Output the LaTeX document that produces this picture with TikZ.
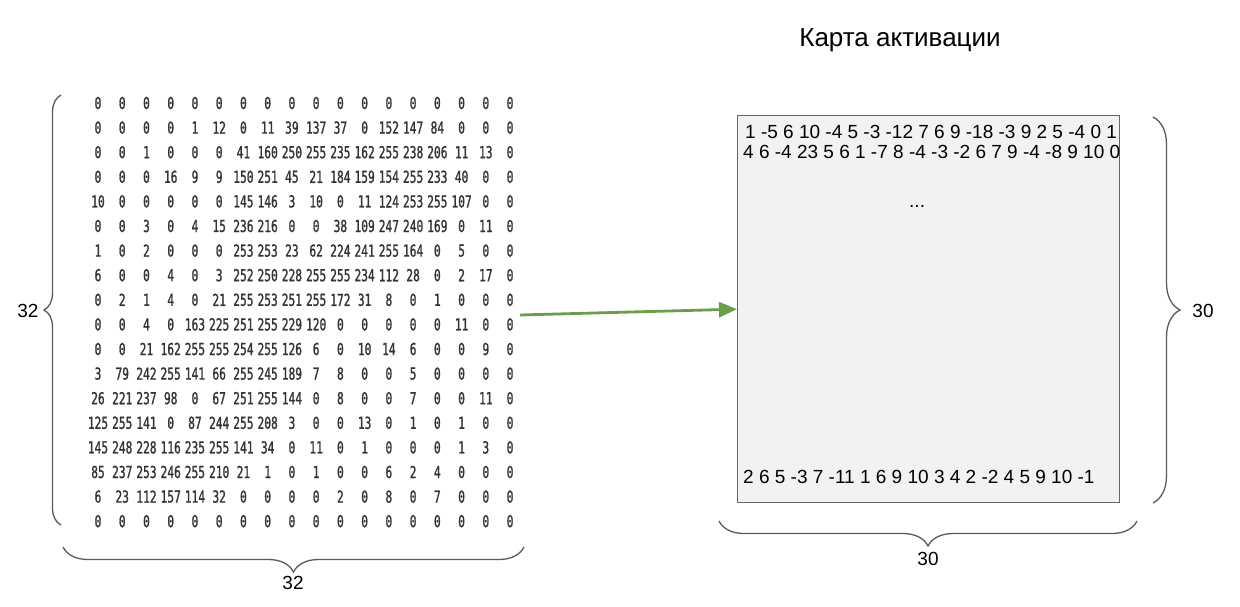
\documentclass[tikz,border=0pt]{standalone}
\usepackage{fontspec}
\setmainfont{Liberation Sans}
\newfontfamily\matfont[FakeStretch=0.68,FakeBold=1.2]{DejaVu Sans Mono}
\usetikzlibrary{decorations.pathreplacing,arrows.meta,calc}
\definecolor{bracegray}{HTML}{5A5A5A}
\definecolor{boxfill}{HTML}{F2F2F2}
\definecolor{boxline}{HTML}{666666}
\definecolor{arrowgreen}{HTML}{6A9E48}
\begin{document}
\begin{tikzpicture}[x=1pt,y=-1pt,
  cell/.style={font=\matfont\fontsize{16.5}{16.5}\selectfont, text=black!80, inner sep=0pt, anchor=center},
  lbl/.style={font=\fontsize{19}{19}\selectfont, inner sep=0pt},
  rowtxt/.style={font=\fontsize{19}{19}\selectfont, inner sep=0pt, anchor=base west},
  brc/.style={draw=bracegray, line width=1.3pt, decorate, decoration={brace, amplitude=#1}},
  fmap/.style={draw=boxline, fill=boxfill, line width=1.3pt, inner sep=0pt},
  conn/.style={draw=arrowgreen, line width=2.8pt, -{Triangle[length=18pt,width=15pt]}}]
\useasboundingbox (0,0) rectangle (1240,606);

% input matrix
\foreach \row [count=\r] in {
{0,0,0,0,0,0,0,0,0,0,0,0,0,0,0,0,0,0},
{0,0,0,0,1,12,0,11,39,137,37,0,152,147,84,0,0,0},
{0,0,1,0,0,0,41,160,250,255,235,162,255,238,206,11,13,0},
{0,0,0,16,9,9,150,251,45,21,184,159,154,255,233,40,0,0},
{10,0,0,0,0,0,145,146,3,10,0,11,124,253,255,107,0,0},
{0,0,3,0,4,15,236,216,0,0,38,109,247,240,169,0,11,0},
{1,0,2,0,0,0,253,253,23,62,224,241,255,164,0,5,0,0},
{6,0,0,4,0,3,252,250,228,255,255,234,112,28,0,2,17,0},
{0,2,1,4,0,21,255,253,251,255,172,31,8,0,1,0,0,0},
{0,0,4,0,163,225,251,255,229,120,0,0,0,0,0,11,0,0},
{0,0,21,162,255,255,254,255,126,6,0,10,14,6,0,0,9,0},
{3,79,242,255,141,66,255,245,189,7,8,0,0,5,0,0,0,0},
{26,221,237,98,0,67,251,255,144,0,8,0,0,7,0,0,11,0},
{125,255,141,0,87,244,255,208,3,0,0,13,0,1,0,1,0,0},
{145,248,228,116,235,255,141,34,0,11,0,1,0,0,0,1,3,0},
{85,237,253,246,255,210,21,1,0,1,0,0,6,2,4,0,0,0},
{6,23,112,157,114,32,0,0,0,0,2,0,8,0,7,0,0,0},
{0,0,0,0,0,0,0,0,0,0,0,0,0,0,0,0,0,0}} {
  \foreach \v [count=\c] in \row {
    \node[cell] (m-\r-\c) at ({98+(\c-1)*24.24},{103+(\r-1)*24.6}) {\v};
  }
}

% braces of the input
\coordinate (lbA) at (61,525);
\coordinate (lbB) at (61,95);
\draw[brc=17pt] (lbA) -- (lbB);
\node[lbl] (lh) at (28,311) {32};
\coordinate (bbA) at (524,547);
\coordinate (bbB) at (63,547);
\draw[brc=25pt] (bbA) -- (bbB);
\node[lbl] (lw) at (293,583) {32};

% activation map
\node[lbl, font=\fontsize{26}{26}\selectfont] (title) at (900,40) {Карта активации};
\node[fmap, minimum width=382pt, minimum height=387pt, anchor=north west] (box) at (737,115) {};
\node[rowtxt] (r1) at (745,138) {1 -5 6 10 -4 5 -3 -12 7 6 9 -18 -3 9 2 5 -4 0 1};
\node[rowtxt] (r2) at (743,158) {4 6 -4 23 5 6 1 -7 8 -4 -3 -2 6 7 9 -4 -8 9 10 0};
\node[rowtxt] (dots) at (909,207) {...};
\node[rowtxt] (r3) at (743,483) {2 6 5 -3 7 -11 1 6 9 10 3 4 2 -2 4 5 9 10 -1};

% braces of the map
\coordinate (rbA) at (1153,117);
\coordinate (rbB) at (1153,503);
\draw[brc=27pt] (rbA) -- (rbB);
\node[lbl] (rh) at (1203,311) {30};
\coordinate (mbA) at (1137,521);
\coordinate (mbB) at (719,521);
\draw[brc=25pt] (mbA) -- (mbB);
\node[lbl] (rw) at (928,559) {30};

% connector
\coordinate (arrS) at (520,315);
\draw[conn] (arrS) -- (box.west);
\end{tikzpicture}
\end{document}
